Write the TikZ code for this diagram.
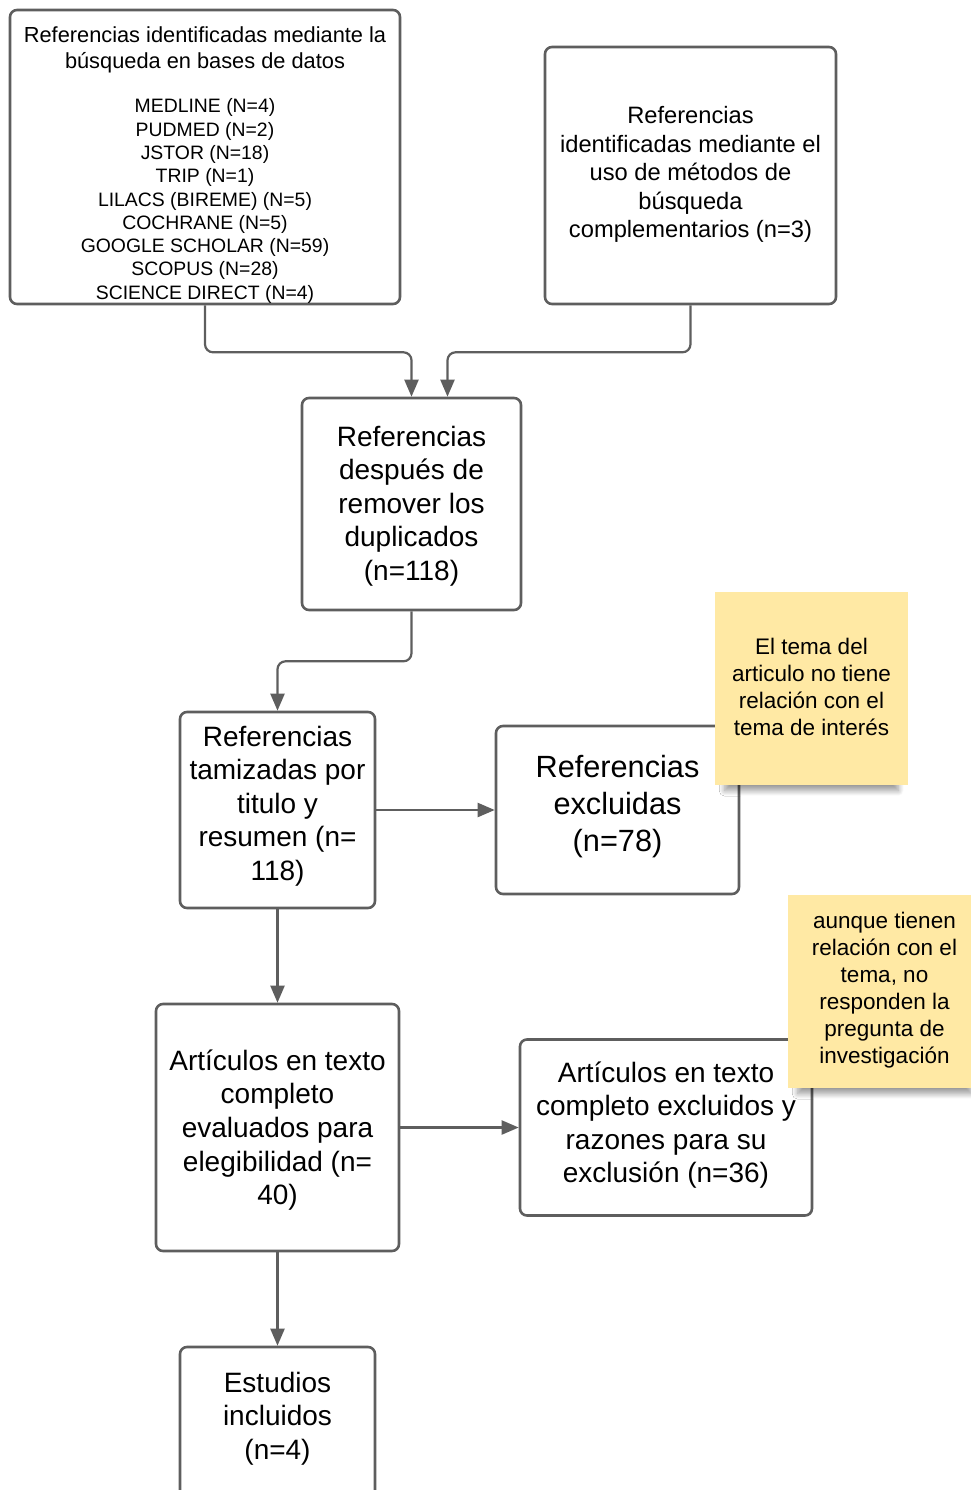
\documentclass[tikz,border=0pt]{standalone}
\usepackage{fontspec}
\setmainfont{Liberation Sans}
\usetikzlibrary{arrows.meta,shadows.blur}
\definecolor{ln}{HTML}{5E5E5E}
\definecolor{notefill}{HTML}{FFE9A4}
\begin{document}
\begin{tikzpicture}[x=1pt,y=-1pt,
  box/.style={draw=ln, line width=2.6pt, rounded corners=7pt, inner sep=0pt, fill=white},
  txt/.style={align=center, inner sep=0pt, text=black},
  arr/.style={draw=ln, line width=2.2pt, rounded corners=8pt, -{Triangle[length=17pt,width=14pt]}},
  stickynote/.style={fill=notefill, inner sep=0pt,
    blur shadow={shadow xshift=0pt, shadow yshift=-17pt, shadow scale=0.9, shadow opacity=40, shadow blur steps=12, shadow blur radius=6pt}},
  big/.style={font=\fontsize{28}{33.6}\selectfont},
  nt/.style={font=\fontsize{22.5}{27}\selectfont}]
\useasboundingbox (0,0) rectangle (971,1490);
\clip (0,0) rectangle (971,1490);

% boxes
\node[box, minimum width=390pt, minimum height=294pt] (A) at (205,157) {};
\node[box, minimum width=291pt, minimum height=257pt] (B) at (690.5,175.5) {};
\node[box, minimum width=219pt, minimum height=212pt] (C) at (411.5,504) {};
\node[box, minimum width=195pt, minimum height=196pt] (D) at (277.5,810) {};
\node[box, minimum width=243pt, minimum height=168pt] (E) at (617.5,810) {};
\node[box, minimum width=243pt, minimum height=247pt] (F) at (277.5,1127.5) {};
\node[box, minimum width=292pt, minimum height=176pt] (G) at (666,1127.5) {};
\node[box, minimum width=195pt, minimum height=196pt] (H) at (277.5,1445) {};

% texts
\node[txt, font=\fontsize{21.8}{26}\selectfont] (At) at (205,50) {Referencias identificadas mediante la\\búsqueda en bases de datos};
\node[txt, font=\fontsize{19.4}{23.3}\selectfont] (Al) at (205,201) {MEDLINE (N=4)\\PUDMED (N=2)\\JSTOR (N=18)\\TRIP (N=1)\\LILACS (BIREME) (N=5)\\COCHRANE (N=5)\\GOOGLE SCHOLAR (N=59)\\SCOPUS (N=28)\\SCIENCE DIRECT (N=4)};
\node[txt, font=\fontsize{23.7}{28.5}\selectfont] (Bt) at (690.5,174.5) {Referencias\\identificadas mediante el\\uso de métodos de\\búsqueda\\complementarios (n=3)};
\node[txt, big] (Ct) at (411.5,506) {Referencias\\después de\\remover los\\duplicados\\(n=118)};
\node[txt, big] (Dt) at (277.5,806) {Referencias\\tamizadas por\\titulo y\\resumen (n=\\118)};
\node[txt, font=\fontsize{30.7}{37}\selectfont] (Et) at (617.5,807) {Referencias\\excluidas\\(n=78)};
\node[txt, big] (Ft) at (277.5,1130) {Artículos en texto\\completo\\evaluados para\\elegibilidad (n=\\40)};
\node[txt, big] (Gt) at (666,1125) {Artículos en texto\\completo excluidos y\\razones para su\\exclusión (n=36)};
\node[txt, big] (Ht) at (277.5,1418.5) {Estudios\\incluidos\\(n=4)};

% notes
\node[stickynote, minimum width=193pt, minimum height=193pt] (N1) at (811.5,688.5) {};
\node[txt, nt] (N1t) at (811.5,687) {El tema del\\articulo no tiene\\relación con el\\tema de interés};
\node[stickynote, minimum width=193pt, minimum height=193pt] (N2) at (884.5,991.5) {};
\node[txt, nt] (N2t) at (884.5,990.5) {aunque tienen\\relación con el\\tema, no\\responden la\\pregunta de\\investigación};

% connectors
\draw[arr] (A.south) -- ++(0,47) -| (C.north);
\draw[arr] (B.south) -- ++(0,47) -| ([xshift=36pt]C.north);
\draw[arr] (C.south) -- ++(0,50) -| (D.north);
\draw[arr] (D.east) -- (E.west);
\draw[arr] (D.south) -- (F.north);
\draw[arr] (F.east) -- (G.west);
\draw[arr] (F.south) -- (H.north);
\end{tikzpicture}
\end{document}
